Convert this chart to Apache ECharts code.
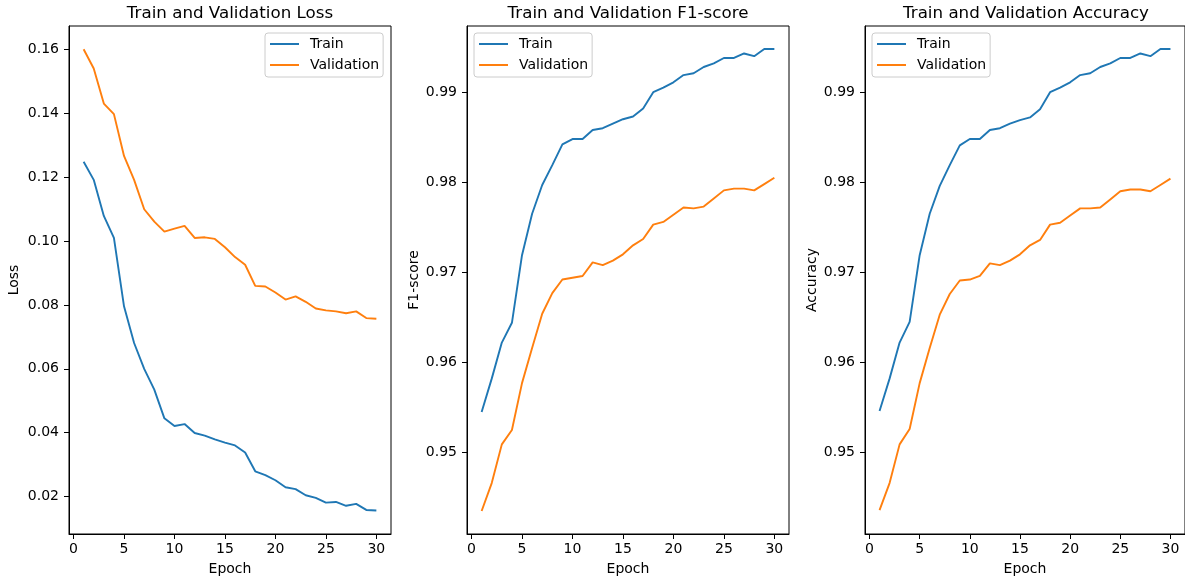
<!DOCTYPE html>
<html>
<head>
<meta charset="utf-8">
<script src="https://cdn.jsdelivr.net/npm/echarts@6/dist/echarts.min.js"></script>
<style>
html,body{margin:0;padding:0;background:#fff;}
#chart{width:1185px;height:581px;}
</style>
</head>
<body>
<div id="chart"></div>
<script>
var epochs = [1,2,3,4,5,6,7,8,9,10,11,12,13,14,15,16,17,18,19,20,21,22,23,24,25,26,27,28,29,30];

var lossTrain = [0.1249,0.1192,0.1079,0.1010,0.0796,0.0681,0.0600,0.0535,0.0445,0.0421,0.0427,0.0399,0.0391,0.0379,0.0369,0.0360,0.0338,0.0279,0.0267,0.0251,0.0229,0.0223,0.0204,0.0196,0.0181,0.0183,0.0171,0.0177,0.0158,0.0156];
var lossVal = [0.1601,0.1541,0.1431,0.1398,0.1267,0.1192,0.1100,0.1061,0.1030,0.1039,0.1048,0.1010,0.1012,0.1007,0.0981,0.0950,0.0926,0.0860,0.0858,0.0839,0.0817,0.0827,0.0810,0.0789,0.0783,0.0780,0.0774,0.0780,0.0759,0.0757];

var f1Train = [0.9545,0.9582,0.9622,0.9644,0.9719,0.9765,0.9797,0.9819,0.9842,0.9848,0.9848,0.9858,0.9860,0.9865,0.9870,0.9873,0.9882,0.9900,0.9905,0.9911,0.9919,0.9921,0.9928,0.9932,0.9938,0.9938,0.9943,0.9940,0.9948,0.9948];
var f1Val = [0.9435,0.9466,0.9509,0.9525,0.9577,0.9616,0.9654,0.9677,0.9692,0.9694,0.9696,0.9711,0.9708,0.9713,0.9720,0.9730,0.9737,0.9753,0.9756,0.9764,0.9772,0.9771,0.9773,0.9782,0.9791,0.9793,0.9793,0.9791,0.9798,0.9805];

var accTrain = [0.9546,0.9582,0.9622,0.9645,0.9719,0.9765,0.9796,0.9819,0.9841,0.9848,0.9848,0.9858,0.9860,0.9865,0.9869,0.9872,0.9881,0.9900,0.9905,0.9911,0.9919,0.9921,0.9928,0.9932,0.9938,0.9938,0.9943,0.9940,0.9948,0.9948];
var accVal = [0.9436,0.9466,0.9509,0.9526,0.9577,0.9616,0.9653,0.9676,0.9691,0.9692,0.9696,0.9710,0.9708,0.9713,0.9720,0.9730,0.9736,0.9753,0.9755,0.9763,0.9771,0.9771,0.9772,0.9781,0.9790,0.9792,0.9792,0.9790,0.9797,0.9804];

var xTicks = [0,5,10,15,20,25,30];
var lossTicks = [0.02,0.04,0.06,0.08,0.10,0.12,0.14,0.16];
var scoreTicks = [0.95,0.96,0.97,0.98,0.99];

var titles = ['Train and Validation Loss','Train and Validation F1-score','Train and Validation Accuracy'];
var yNames = ['Loss','F1-score','Accuracy'];
var seriesNames = ['Train','Validation'];
var colors = ['#1f77b4','#ff7f0e'];

var FONT = 'DejaVu Sans';
var gridLefts = [69, 467, 865];
var gridW = 322, gridTop = 26, gridH = 508;

function pairs(arr){ return epochs.map(function(e,i){ return [e, arr[i]]; }); }

var yRanges = [[0.00826,0.1674],[0.94095,0.99735],[0.94095,0.99735]];
var yTickSets = [lossTicks, scoreTicks, scoreTicks];
var yDecimals = [2,2,2];
var yNameGaps = [48,46,46];
var dataSets = [[lossTrain,lossVal],[f1Train,f1Val],[accTrain,accVal]];
var legendLefts = [265, 474, 872];

var grids=[], xAxes=[], yAxes=[], series=[], titleArr=[], legends=[];
for (var g=0; g<3; g++){
  grids.push({left:gridLefts[g], top:gridTop, width:gridW, height:gridH, show:true, borderColor:'#000', borderWidth:1, backgroundColor:'transparent'});
  xAxes.push({
    type:'value', gridIndex:g, min:-0.45, max:31.45,
    name:'Epoch', nameLocation:'middle', nameGap:28,
    nameTextStyle:{fontFamily:FONT, fontSize:14, color:'#000'},
    axisLine:{show:true, onZero:false, lineStyle:{color:'#000', width:1}},
    axisTick:{show:true, length:5, inside:false, customValues:xTicks, lineStyle:{color:'#000', width:1}},
    axisLabel:{customValues:xTicks, margin:8, fontFamily:FONT, fontSize:14, color:'#000',
      formatter:function(v){ return String(Math.round(v)); }},
    splitLine:{show:false}
  });
  (function(dec){
  yAxes.push({
    type:'value', gridIndex:g, min:yRanges[g][0], max:yRanges[g][1],
    name:yNames[g], nameLocation:'middle', nameGap:yNameGaps[g], nameRotate:90,
    nameTextStyle:{fontFamily:FONT, fontSize:14, color:'#000'},
    axisLine:{show:true, onZero:false, lineStyle:{color:'#000', width:1}},
    axisTick:{show:true, length:5, inside:false, customValues:yTickSets[g], lineStyle:{color:'#000', width:1}},
    axisLabel:{customValues:yTickSets[g], margin:10, fontFamily:FONT, fontSize:14, color:'#000',
      formatter:function(v){ return v.toFixed(dec); }},
    splitLine:{show:false}
  });
  })(yDecimals[g]);
  for (var s=0; s<2; s++){
    series.push({
      type:'line', name:seriesNames[s], xAxisIndex:g, yAxisIndex:g,
      data:pairs(dataSets[g][s]), symbol:'none', showSymbol:false,
      color:colors[s], lineStyle:{color:colors[s], width:1.9}, silent:true, z:3
    });
  }
  titleArr.push({
    text:titles[g], left:gridLefts[g]+gridW/2, top:5, textAlign:'center', padding:0,
    textStyle:{fontFamily:FONT, fontSize:16.7, fontWeight:'normal', color:'#000'}
  });
  legends.push({
    data:seriesNames.map(function(n){ return {name:n, icon:'rect'}; }),
    orient:'vertical', left:legendLefts[g], top:33,
    itemWidth:29, itemHeight:2, itemGap:7,
    padding:[4,4,5,5],
    backgroundColor:'rgba(255,255,255,0.8)', borderColor:'#cccccc', borderWidth:1, borderRadius:3,
    textStyle:{fontFamily:FONT, fontSize:14, lineHeight:14, color:'#000', padding:[0,0,0,6]},
    selectedMode:false
  });
}

var chart = echarts.init(document.getElementById('chart'), null, {renderer:'canvas'});
chart.setOption({
  animation:false,
  backgroundColor:'#fff',
  title:titleArr,
  legend:legends,
  grid:grids,
  xAxis:xAxes,
  yAxis:yAxes,
  series:series
});
</script>
</body>
</html>
